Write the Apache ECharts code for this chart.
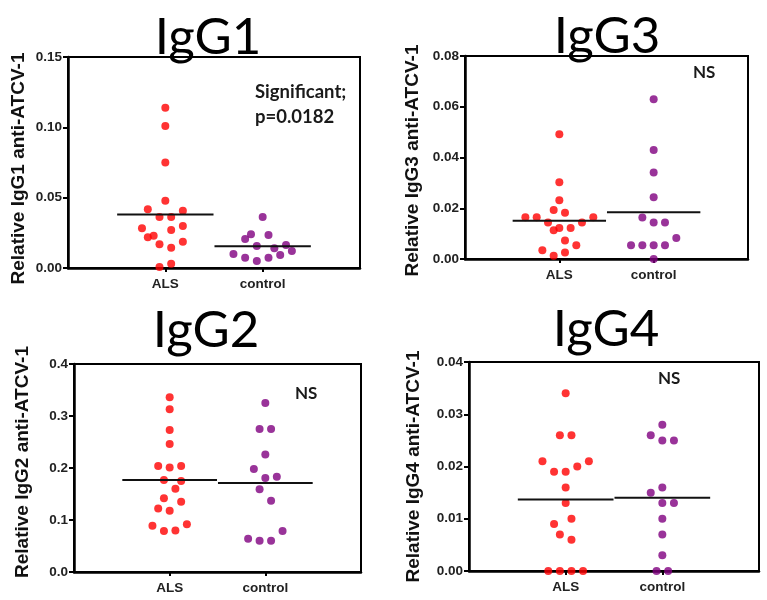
<!DOCTYPE html>
<html>
<head>
<meta charset="utf-8">
<script src="https://cdn.jsdelivr.net/npm/echarts@6/dist/echarts.min.js"></script>
<style>
html,body{margin:0;padding:0;background:#fff;}
#chart{width:767px;height:600px;}
</style>
</head>
<body>
<div id="chart"></div>
<script>
// ---------- data ----------
const categories = ['ALS', 'control'];
const panelTitles = ['IgG1', 'IgG3', 'IgG2', 'IgG4'];
const yNames = ['Relative IgG1 anti-ATCV-1', 'Relative IgG3 anti-ATCV-1', 'Relative IgG2 anti-ATCV-1', 'Relative IgG4 anti-ATCV-1'];
const yMax = [0.15, 0.08, 0.4, 0.04];
const yStep = [0.05, 0.02, 0.1, 0.01];
const yDecimals = [2, 2, 1, 2];
const notes = ['Significant;\np=0.0182', 'NS', 'NS', 'NS'];

// IgG1
const igg1Als = [0.114, 0.101, 0.075, 0.0478, 0.0417, 0.0407, 0.0362, 0.0362, 0.0299, 0.0282, 0.0270, 0.0218, 0.0230, 0.0168, 0.0187, 0.0144, 0.0031, 0.0007];
const igg1AlsPos = [0, 0, 0, 0, -3, 3, -1, 1, 3, -4, 1, -3, -2, -1, 3, 1, 1, -1];
const igg1Ctrl = [0.0363, 0.0240, 0.0206, 0.0235, 0.0156, 0.0140, 0.0163, 0.0121, 0.0100, 0.0073, 0.0050, 0.0073, 0.0092];
const igg1CtrlPos = [0, -2, -3, 1, -1, 2, 4, 5, -5, -3, -1, 1, 3];
const igg1Median = [0.038, 0.0155];

// IgG3
const igg3Als = [0.0492, 0.0302, 0.0232, 0.0193, 0.0182, 0.0165, 0.0165, 0.0165, 0.0144, 0.0144, 0.0113, 0.0122, 0.0122, 0.0073, 0.0054, 0.0034, 0.0026, 0.0013];
const igg3AlsPos = [0, 0, 0, -1, 1, -6, -4, 6, -2, 4, -1, 0, 2, 1, 3, -3, 1, -1];
const igg3Ctrl = [0.0630, 0.0430, 0.0341, 0.0243, 0.0164, 0.0144, 0.0144, 0.0083, 0.0054, 0.0054, 0.0054, 0.0054, 0.0];
const igg3CtrlPos = [0, 0, 0, 0, -2, 0, 2, 4, -4, -2, 0, 2, 0];
const igg3Median = [0.0151, 0.0184];

// IgG2
const igg2Als = [0.336, 0.313, 0.273, 0.246, 0.204, 0.201, 0.204, 0.177, 0.175, 0.160, 0.142, 0.135, 0.122, 0.118, 0.089, 0.092, 0.079, 0.080];
const igg2AlsPos = [0, 0, 0, 0, -2, 0, 2, -1, 2, 1, -1, 2, -2, 0, -3, 3, -1, 1];
const igg2Ctrl = [0.325, 0.275, 0.275, 0.226, 0.198, 0.181, 0.183, 0.159, 0.137, 0.079, 0.064, 0.060, 0.060];
const igg2CtrlPos = [0, -1, 1, 0, -2, 0, 2, -1, 1, 3, -3, -1, 1];
const igg2Median = [0.177, 0.171];

// IgG4
const igg4Als = [0.034, 0.026, 0.026, 0.021, 0.021, 0.020, 0.019, 0.019, 0.016, 0.013, 0.010, 0.009, 0.007, 0.006, 0, 0, 0, 0];
const igg4AlsPos = [0, -1, 1, -4, 4, 2, -2, 0, 0, 0, 1, -2, -1, 1, -3, -1, 1, 3];
const igg4Ctrl = [0.028, 0.026, 0.025, 0.025, 0.016, 0.015, 0.013, 0.013, 0.010, 0.007, 0.003, 0, 0];
const igg4CtrlPos = [0, -2, 0, 2, 0, -2, 0, 2, 0, 0, 0, -1, 1];
const igg4Median = [0.0137, 0.0140];

const panels = [
  {als: igg1Als, alsPos: igg1AlsPos, ctrl: igg1Ctrl, ctrlPos: igg1CtrlPos, median: igg1Median},
  {als: igg3Als, alsPos: igg3AlsPos, ctrl: igg3Ctrl, ctrlPos: igg3CtrlPos, median: igg3Median},
  {als: igg2Als, alsPos: igg2AlsPos, ctrl: igg2Ctrl, ctrlPos: igg2CtrlPos, median: igg2Median},
  {als: igg4Als, alsPos: igg4AlsPos, ctrl: igg4Ctrl, ctrlPos: igg4CtrlPos, median: igg4Median}
];

// ---------- layout / style ----------
const grids = [
  {left: 68, top: 57, width: 292, height: 211},
  {left: 465, top: 56, width: 283, height: 203},
  {left: 74, top: 364, width: 287, height: 208},
  {left: 469, top: 362, width: 290, height: 209}
];
const nameGaps = [40, 43, 42, 46];
// padding to nudge the rotated axis name along the axis (right = downwards)
const namePads = [[0, 12, 0, 0], [0, 6, 0, 0], [0, 0, 0, 12], [0, 0, 0, 0]];
const titlePos = [[208, 38], [607, 37], [206, 331], [606, 330]];
const notePos = [[255, 105], [693, 73], [295, 394], [658, 379]];
const jitterStep = 0.06;
const lineHalf = 0.495;
const colors = ['#ff0000', '#800080'];
const labelFont = 'Liberation Sans, Arial, sans-serif';

const chart = echarts.init(document.getElementById('chart'), null, {renderer: 'canvas'});

const xAxes = [], yAxes = [], series = [], graphics = [];
grids.forEach((g, i) => {
  xAxes.push({
    gridIndex: i, type: 'value', min: 0, max: 3, interval: 1,
    splitLine: {show: false},
    axisLine: {show: true, onZero: false, lineStyle: {color: '#000', width: 2.5}},
    axisTick: {show: true, customValues: [1, 2], length: 4, lineStyle: {color: '#000', width: 2}},
    axisLabel: {show: true, customValues: [1, 2], formatter: v => categories[Math.round(v) - 1] || '',
      fontFamily: labelFont, fontWeight: 'bold', fontSize: 13.5, color: '#222', margin: 9}
  });
  yAxes.push({
    gridIndex: i, type: 'value', min: 0, max: yMax[i], interval: yStep[i],
    splitLine: {show: false},
    axisLine: {show: true, lineStyle: {color: '#000', width: 2.5}},
    axisTick: {show: true, length: 5, lineStyle: {color: '#000', width: 2}},
    axisLabel: {formatter: v => v.toFixed(yDecimals[i]), fontFamily: labelFont, fontWeight: 'bold',
      fontSize: 13.5, color: '#222', margin: 6},
    name: yNames[i], nameLocation: 'middle', nameGap: nameGaps[i], nameRotate: 90,
    nameTextStyle: {fontFamily: labelFont, fontWeight: 'bold', fontSize: 19, color: '#111', padding: namePads[i]}
  });
  const p = panels[i];
  const groups = [[p.als, p.alsPos], [p.ctrl, p.ctrlPos]];
  groups.forEach((grp, c) => {
    const center = c + 1;
    series.push({
      type: 'scatter', xAxisIndex: i, yAxisIndex: i, symbol: 'circle', symbolSize: 8,
      itemStyle: {color: colors[c]}, z: 2, clip: false,
      data: grp[0].map((v, k) => [center + grp[1][k] * jitterStep, v])
    });
    series.push({
      type: 'line', xAxisIndex: i, yAxisIndex: i, symbol: 'none', z: 3,
      lineStyle: {color: '#111', width: 2}, silent: true,
      data: [[center - lineHalf, p.median[c]], [center + lineHalf, p.median[c]]]
    });
  });
  graphics.push({
    type: 'text', x: titlePos[i][0], y: titlePos[i][1],
    style: {text: panelTitles[i], fontFamily: 'Lato, sans-serif', fontSize: 51, fill: '#000',
      align: 'center', verticalAlign: 'middle'}
  });
  graphics.push({
    type: 'text', x: notePos[i][0], y: notePos[i][1],
    style: {text: notes[i], fontFamily: 'Lato, sans-serif', fontWeight: 'bold', fontSize: i === 0 ? 18.5 : 17,
      lineHeight: 25, fill: '#1a1a1a', align: 'left', verticalAlign: 'middle'}
  });
});

chart.setOption({
  animation: false,
  backgroundColor: '#fff',
  grid: grids.map(g => Object.assign({show: true, borderColor: '#000', borderWidth: 2, backgroundColor: 'transparent'}, g)),
  xAxis: xAxes,
  yAxis: yAxes,
  series: series,
  graphic: graphics
});
</script>
</body>
</html>
